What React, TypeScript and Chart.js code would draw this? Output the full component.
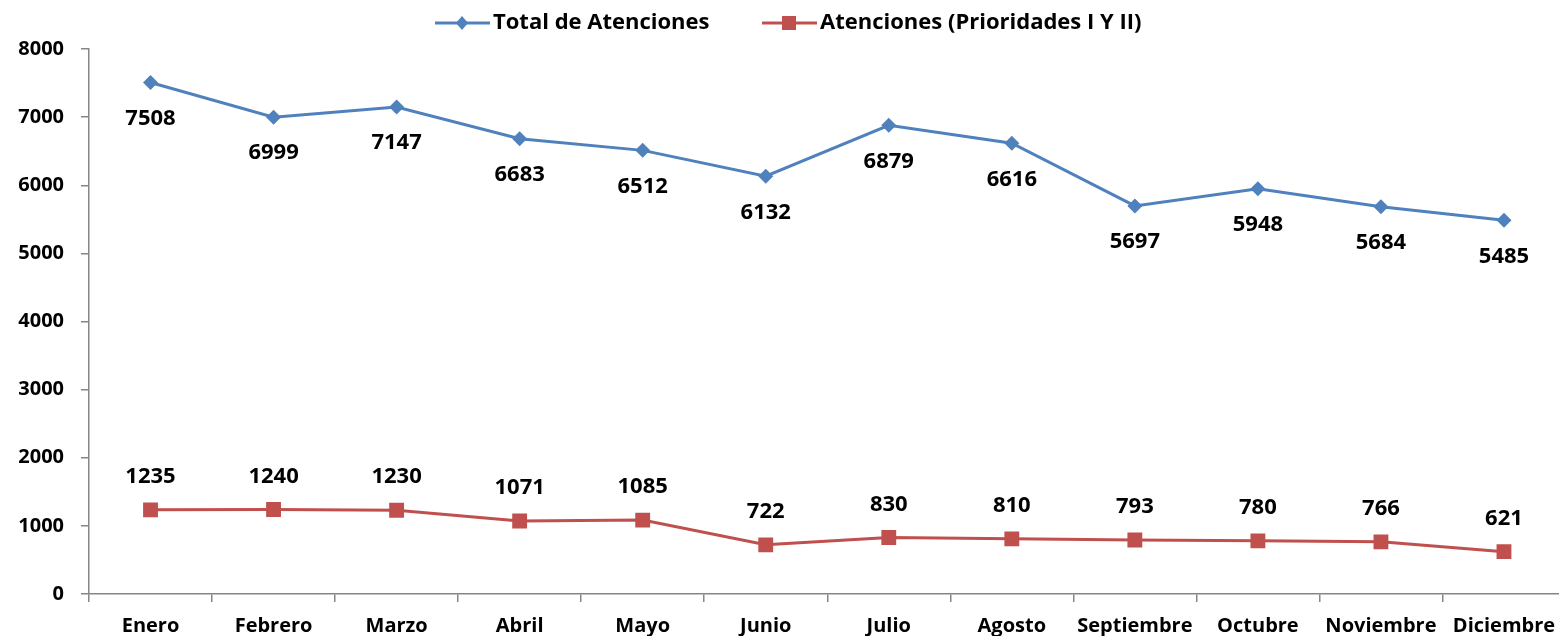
import React, { useEffect, useRef } from "react";
import { Chart, registerables } from "chart.js";

Chart.register(...registerables);

const months = ["Enero", "Febrero", "Marzo", "Abril", "Mayo", "Junio", "Julio", "Agosto", "Septiembre", "Octubre", "Noviembre", "Diciembre"];
const totalAtenciones = [7508, 6999, 7147, 6683, 6512, 6132, 6879, 6616, 5697, 5948, 5684, 5485];
const prioridades = [1235, 1240, 1230, 1071, 1085, 722, 830, 810, 793, 780, 766, 621];
const seriesNames = ["Total de Atenciones", "Atenciones (Prioridades I Y II)"];

const BLUE = "#4F81BD";
const RED = "#C0504D";
const FONT = "'Open Sans', 'Noto Sans', sans-serif";

const labelsPlugin = {
  id: "valueLabels",
  afterDatasetsDraw(chart: any) {
    const ctx = chart.ctx;
    ctx.save();
    ctx.font = `bold 22px ${FONT}`;
    ctx.fillStyle = "#000";
    ctx.textAlign = "center";
    ctx.textBaseline = "middle";
    chart.data.datasets.forEach((ds: any, i: number) => {
      const meta = chart.getDatasetMeta(i);
      meta.data.forEach((pt: any, j: number) => {
        const dy = i === 0 ? 36 : -33;
        ctx.fillText(String(ds.data[j]), pt.x, pt.y + dy);
      });
    });
    ctx.restore();
  },
};

const legendPlugin = {
  id: "customLegend",
  afterDraw(chart: any) {
    const ctx = chart.ctx;
    ctx.save();
    const items = [
      { x: 435, color: BLUE, shape: "diamond", text: seriesNames[0] },
      { x: 762, color: RED, shape: "square", text: seriesNames[1] },
    ];
    const y = 23;
    items.forEach((it) => {
      ctx.strokeStyle = it.color;
      ctx.lineWidth = 3;
      ctx.beginPath();
      ctx.moveTo(it.x, y);
      ctx.lineTo(it.x + 55, y);
      ctx.stroke();
      ctx.fillStyle = it.color;
      const cx = it.x + 27;
      if (it.shape === "diamond") {
        ctx.beginPath();
        ctx.moveTo(cx, y - 7);
        ctx.lineTo(cx + 6, y);
        ctx.lineTo(cx, y + 7);
        ctx.lineTo(cx - 6, y);
        ctx.closePath();
        ctx.fill();
      } else {
        ctx.fillRect(cx - 7, y - 7, 14, 14);
      }
      ctx.fillStyle = "#000";
      ctx.font = `bold 22px ${FONT}`;
      ctx.textAlign = "left";
      ctx.textBaseline = "middle";
      ctx.fillText(it.text, it.x + 58, y);
    });
    ctx.restore();
  },
};

export default function App() {
  const ref = useRef<HTMLCanvasElement | null>(null);
  useEffect(() => {
    if (!ref.current) return;
    const chart = new Chart(ref.current, {
      type: "line",
      data: {
        labels: months,
        datasets: [
          {
            label: seriesNames[0],
            data: totalAtenciones,
            borderColor: BLUE,
            backgroundColor: BLUE,
            borderWidth: 3,
            pointStyle: "rectRot",
            pointRadius: 7.5,
            pointBorderWidth: 0,
            tension: 0,
          },
          {
            label: seriesNames[1],
            data: prioridades,
            borderColor: RED,
            backgroundColor: RED,
            borderWidth: 3,
            pointStyle: "rect",
            pointRadius: 10.5,
            pointBorderWidth: 0,
            tension: 0,
          },
        ],
      },
      options: {
        responsive: false,
        animation: false,
        layout: { padding: { top: 49, right: 0, left: 0, bottom: 0 } },
        plugins: { legend: { display: false }, tooltip: { enabled: false } },
        scales: {
          x: {
            offset: true,
            grid: { display: true, offset: true, drawOnChartArea: false, drawTicks: true, tickLength: 8, color: "#868686", lineWidth: 1.5 },
            border: { color: "#868686", width: 1.5 },
            ticks: { color: "#000", font: { family: FONT, size: 20, weight: "bold" }, padding: 12, maxRotation: 0, autoSkip: false },
            afterFit: (s: any) => { s.height = 42; },
          },
          y: {
            min: 0,
            max: 8000,
            grid: { display: true, drawOnChartArea: false, drawTicks: true, tickLength: 8, color: "#868686", lineWidth: 1.5 },
            border: { color: "#868686", width: 1.5 },
            ticks: { stepSize: 1000, color: "#000", font: { family: FONT, size: 20, weight: "bold" }, padding: 17, callback: (v: any) => String(v) },
            afterFit: (s: any) => { s.width = 89; },
          },
        },
      },
      plugins: [labelsPlugin, legendPlugin],
    });
    return () => chart.destroy();
  }, []);
  return (
    <div style={{ position: "fixed", left: 0, top: 0, width: 1559, height: 636, overflow: "hidden", background: "#fff" }}>
      <canvas ref={ref} width={1576} height={636} style={{ width: 1576, height: 636, display: "block" }} />
    </div>
  );
}
